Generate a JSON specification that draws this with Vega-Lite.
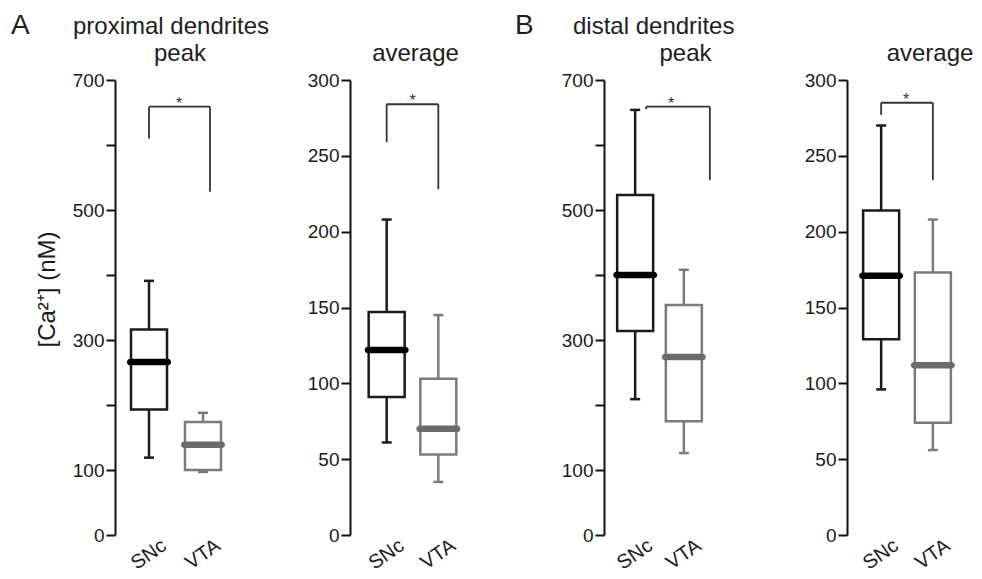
{
  "$schema": "https://vega.github.io/schema/vega-lite/v6.json",
  "background": "white",
  "padding": {"left": 11, "top": 12, "right": 5, "bottom": 5},
  "config": {
    "font": "Liberation Sans",
    "view": {"stroke": null},
    "title": {"font": "Liberation Sans", "fontWeight": "normal", "fontSize": 24, "color": "#1e1e1e", "baseline": "alphabetic"},
    "axis": {"domainColor": "#111111", "domainWidth": 2, "tickColor": "#111111", "tickWidth": 2, "tickSize": 9, "labelFont": "Liberation Sans", "labelFontSize": 19, "labelColor": "#1a1a1a", "grid": false, "titleFont": "Liberation Sans", "titleFontWeight": "normal"},
    "axisY": {"labelPadding": 2},
    "axisX": {"domain": false, "ticks": false, "labelAngle": -35, "labelFontSize": 20, "labelPadding": 0, "labelOffset": 9},
    "tick": {"opacity": 1}
  },
  "datasets": {
    "boxes": [
      {"panel": "A_peak", "group": "SNc", "lower": 119, "q1": 193, "median": 266, "q3": 316, "upper": 391},
      {"panel": "A_peak", "group": "VTA", "lower": 97, "q1": 100, "median": 139, "q3": 174, "upper": 188},
      {"panel": "A_avg", "group": "SNc", "lower": 61, "q1": 91, "median": 122, "q3": 147, "upper": 208},
      {"panel": "A_avg", "group": "VTA", "lower": 35, "q1": 53, "median": 70, "q3": 103, "upper": 145},
      {"panel": "B_peak", "group": "SNc", "lower": 209, "q1": 314, "median": 400, "q3": 523, "upper": 654},
      {"panel": "B_peak", "group": "VTA", "lower": 126, "q1": 175, "median": 274, "q3": 354, "upper": 408},
      {"panel": "B_avg", "group": "SNc", "lower": 96, "q1": 129, "median": 171, "q3": 214, "upper": 270},
      {"panel": "B_avg", "group": "VTA", "lower": 56, "q1": 74, "median": 112, "q3": 173, "upper": 208}
    ],
    "brackets": [
      {"panel": "A_peak", "left": "SNc", "right": "VTA", "top": 659, "leftEnd": 610, "rightEnd": 528, "mark": "*"},
      {"panel": "A_avg", "left": "SNc", "right": "VTA", "top": 284, "leftEnd": 259, "rightEnd": 228, "mark": "*"},
      {"panel": "B_peak", "left": "SNc", "right": "VTA", "top": 659, "leftEnd": 655, "rightEnd": 546, "mark": "*"},
      {"panel": "B_avg", "left": "SNc", "right": "VTA", "top": 285, "leftEnd": 277, "rightEnd": 234, "mark": "*"}
    ]
  },
  "bounds": "flush",
  "spacing": 489,
  "hconcat": [
    {
      "title": {"text": "A", "fontSize": 28, "anchor": "start", "frame": "group", "dx": -104, "dy": 25, "offset": 0},
      "bounds": "flush",
      "hconcat": [
        {
          "title": {"text": "proximal dendrites", "anchor": "start", "frame": "group", "dx": -42, "offset": 3},
          "bounds": "flush",
          "spacing": 113,
          "hconcat": [
            {
              "width": 122, "height": 455,
              "title": {"text": "peak", "anchor": "middle", "frame": "group", "offset": 5, "dx": 4},
              "layer": [
                {
                  "data": {"name": "boxes"},
                  "transform": [{"filter": "datum.panel == 'A_peak'"}],
                  "layer": [
                    {"mark": {"type": "rule", "strokeWidth": 2.5},
                     "encoding": {
                       "x": {"field": "group", "type": "nominal", "title": null, "scale": {"type": "point", "domain": ["SNc", "VTA"], "padding": 0.63}},
                       "y": {"field": "lower", "type": "quantitative", "title": "[Ca²⁺] (nM)", "scale": {"domain": [0, 700], "nice": false}, "axis": {"titleFontSize": 24, "titleColor": "#1a1a1a", "titleX": -68, "titleY": 209, "titleBaseline": "middle", "titleAlign": "center", "values": [0, 100, 200, 300, 400, 500, 600, 700], "labelExpr": "datum.value == 0 || datum.value % 200 == 100 ? datum.label : ''"}},
                       "y2": {"field": "upper"},
                       "color": {"condition": {"test": "datum.group == 'SNc'", "value": "#1a1a1a"}, "value": "#7b7b7b"}
                     }},
                    {"mark": {"type": "bar", "size": 36, "fill": "white", "strokeWidth": 2.5},
                     "encoding": {
                       "x": {"field": "group", "type": "nominal", "title": null},
                       "y": {"field": "q1", "type": "quantitative", "title": "[Ca²⁺] (nM)"},
                       "y2": {"field": "q3"},
                       "stroke": {"condition": {"test": "datum.group == 'SNc'", "value": "#1a1a1a"}, "value": "#7b7b7b"}
                     }},
                    {"mark": {"type": "tick", "size": 10, "thickness": 2.5},
                     "encoding": {
                       "x": {"field": "group", "type": "nominal", "title": null},
                       "y": {"field": "lower", "type": "quantitative", "title": "[Ca²⁺] (nM)"},
                       "color": {"condition": {"test": "datum.group == 'SNc'", "value": "#1a1a1a"}, "value": "#7b7b7b"}
                     }},
                    {"mark": {"type": "tick", "size": 10, "thickness": 2.5},
                     "encoding": {
                       "x": {"field": "group", "type": "nominal", "title": null},
                       "y": {"field": "upper", "type": "quantitative", "title": "[Ca²⁺] (nM)"},
                       "color": {"condition": {"test": "datum.group == 'SNc'", "value": "#1a1a1a"}, "value": "#7b7b7b"}
                     }},
                    {"mark": {"type": "tick", "size": 44, "thickness": 6.5, "cornerRadius": 3.2},
                     "encoding": {
                       "x": {"field": "group", "type": "nominal", "title": null},
                       "y": {"field": "median", "type": "quantitative", "title": "[Ca²⁺] (nM)"},
                       "color": {"condition": {"test": "datum.group == 'SNc'", "value": "#000000"}, "value": "#6b6b6b"}
                     }}
                  ]
                },
                {
                  "data": {"name": "brackets"},
                  "transform": [{"filter": "datum.panel == 'A_peak'"}],
                  "layer": [
                    {"mark": {"type": "rule", "strokeWidth": 1.8, "color": "#333333", "x2Offset": 7},
                     "encoding": {"x": {"field": "left", "type": "nominal", "title": null}, "x2": {"field": "right"}, "y": {"field": "top", "type": "quantitative", "title": "[Ca²⁺] (nM)"}}},
                    {"mark": {"type": "rule", "strokeWidth": 1.8, "color": "#333333"},
                     "encoding": {"x": {"field": "left", "type": "nominal", "title": null}, "y": {"field": "leftEnd", "type": "quantitative", "title": "[Ca²⁺] (nM)"}, "y2": {"field": "top"}}},
                    {"mark": {"type": "rule", "strokeWidth": 1.8, "color": "#333333", "xOffset": 7},
                     "encoding": {"x": {"field": "right", "type": "nominal", "title": null}, "y": {"field": "rightEnd", "type": "quantitative", "title": "[Ca²⁺] (nM)"}, "y2": {"field": "top"}}},
                    {"mark": {"type": "text", "fontSize": 16, "color": "#333333", "xOffset": 30, "dy": 2, "baseline": "alphabetic"},
                     "encoding": {"x": {"field": "left", "type": "nominal", "title": null}, "y": {"field": "top", "type": "quantitative", "title": "[Ca²⁺] (nM)"}, "text": {"field": "mark"}}}
                  ]
                }
              ]
            },
            {
              "width": 125, "height": 455,
              "title": {"text": "average", "anchor": "middle", "frame": "group", "offset": 5, "dx": 3},
              "layer": [
                {
                  "data": {"name": "boxes"},
                  "transform": [{"filter": "datum.panel == 'A_avg'"}],
                  "layer": [
                    {"mark": {"type": "rule", "strokeWidth": 2.5},
                     "encoding": {
                       "x": {"field": "group", "type": "nominal", "title": null, "scale": {"type": "point", "domain": ["SNc", "VTA"], "padding": 0.71}},
                       "y": {"field": "lower", "type": "quantitative", "title": null, "scale": {"domain": [0, 300], "nice": false}, "axis": {"values": [0, 25, 50, 75, 100, 125, 150, 175, 200, 225, 250, 275, 300], "labelExpr": "datum.value % 50 == 0 ? datum.label : ''"}},
                       "y2": {"field": "upper"},
                       "color": {"condition": {"test": "datum.group == 'SNc'", "value": "#1a1a1a"}, "value": "#7b7b7b"}
                     }},
                    {"mark": {"type": "bar", "size": 36, "fill": "white", "strokeWidth": 2.5},
                     "encoding": {
                       "x": {"field": "group", "type": "nominal", "title": null},
                       "y": {"field": "q1", "type": "quantitative", "title": null},
                       "y2": {"field": "q3"},
                       "stroke": {"condition": {"test": "datum.group == 'SNc'", "value": "#1a1a1a"}, "value": "#7b7b7b"}
                     }},
                    {"mark": {"type": "tick", "size": 10, "thickness": 2.5},
                     "encoding": {
                       "x": {"field": "group", "type": "nominal", "title": null},
                       "y": {"field": "lower", "type": "quantitative", "title": null},
                       "color": {"condition": {"test": "datum.group == 'SNc'", "value": "#1a1a1a"}, "value": "#7b7b7b"}
                     }},
                    {"mark": {"type": "tick", "size": 10, "thickness": 2.5},
                     "encoding": {
                       "x": {"field": "group", "type": "nominal", "title": null},
                       "y": {"field": "upper", "type": "quantitative", "title": null},
                       "color": {"condition": {"test": "datum.group == 'SNc'", "value": "#1a1a1a"}, "value": "#7b7b7b"}
                     }},
                    {"mark": {"type": "tick", "size": 44, "thickness": 6.5, "cornerRadius": 3.2},
                     "encoding": {
                       "x": {"field": "group", "type": "nominal", "title": null},
                       "y": {"field": "median", "type": "quantitative", "title": null},
                       "color": {"condition": {"test": "datum.group == 'SNc'", "value": "#000000"}, "value": "#6b6b6b"}
                     }}
                  ]
                },
                {
                  "data": {"name": "brackets"},
                  "transform": [{"filter": "datum.panel == 'A_avg'"}],
                  "layer": [
                    {"mark": {"type": "rule", "strokeWidth": 1.8, "color": "#333333"},
                     "encoding": {"x": {"field": "left", "type": "nominal", "title": null}, "x2": {"field": "right"}, "y": {"field": "top", "type": "quantitative", "title": null}}},
                    {"mark": {"type": "rule", "strokeWidth": 1.8, "color": "#333333"},
                     "encoding": {"x": {"field": "left", "type": "nominal", "title": null}, "y": {"field": "leftEnd", "type": "quantitative", "title": null}, "y2": {"field": "top"}}},
                    {"mark": {"type": "rule", "strokeWidth": 1.8, "color": "#333333"},
                     "encoding": {"x": {"field": "right", "type": "nominal", "title": null}, "y": {"field": "rightEnd", "type": "quantitative", "title": null}, "y2": {"field": "top"}}},
                    {"mark": {"type": "text", "fontSize": 16, "color": "#333333", "xOffset": 26, "dy": 2, "baseline": "alphabetic"},
                     "encoding": {"x": {"field": "left", "type": "nominal", "title": null}, "y": {"field": "top", "type": "quantitative", "title": null}, "text": {"field": "mark"}}}
                  ]
                }
              ]
            }
          ]
        }
      ]
    },
    {
      "title": {"text": "B", "fontSize": 28, "anchor": "start", "frame": "group", "dx": -89, "dy": 25, "offset": 0},
      "bounds": "flush",
      "hconcat": [
        {
          "title": {"text": "distal dendrites", "anchor": "start", "frame": "group", "dx": -31, "offset": 3},
          "bounds": "flush",
          "spacing": 132,
          "hconcat": [
            {
              "width": 111, "height": 455,
              "title": {"text": "peak", "anchor": "middle", "frame": "group", "offset": 5, "dx": 26},
              "layer": [
                {
                  "data": {"name": "boxes"},
                  "transform": [{"filter": "datum.panel == 'B_peak'"}],
                  "layer": [
                    {"mark": {"type": "rule", "strokeWidth": 2.5},
                     "encoding": {
                       "x": {"field": "group", "type": "nominal", "title": null, "scale": {"type": "point", "domain": ["SNc", "VTA"], "padding": 0.64}},
                       "y": {"field": "lower", "type": "quantitative", "title": null, "scale": {"domain": [0, 700], "nice": false}, "axis": {"values": [0, 100, 200, 300, 400, 500, 600, 700], "labelExpr": "datum.value == 0 || datum.value % 200 == 100 ? datum.label : ''"}},
                       "y2": {"field": "upper"},
                       "color": {"condition": {"test": "datum.group == 'SNc'", "value": "#1a1a1a"}, "value": "#7b7b7b"}
                     }},
                    {"mark": {"type": "bar", "size": 36, "fill": "white", "strokeWidth": 2.5},
                     "encoding": {
                       "x": {"field": "group", "type": "nominal", "title": null},
                       "y": {"field": "q1", "type": "quantitative", "title": null},
                       "y2": {"field": "q3"},
                       "stroke": {"condition": {"test": "datum.group == 'SNc'", "value": "#1a1a1a"}, "value": "#7b7b7b"}
                     }},
                    {"mark": {"type": "tick", "size": 10, "thickness": 2.5},
                     "encoding": {
                       "x": {"field": "group", "type": "nominal", "title": null},
                       "y": {"field": "lower", "type": "quantitative", "title": null},
                       "color": {"condition": {"test": "datum.group == 'SNc'", "value": "#1a1a1a"}, "value": "#7b7b7b"}
                     }},
                    {"mark": {"type": "tick", "size": 10, "thickness": 2.5},
                     "encoding": {
                       "x": {"field": "group", "type": "nominal", "title": null},
                       "y": {"field": "upper", "type": "quantitative", "title": null},
                       "color": {"condition": {"test": "datum.group == 'SNc'", "value": "#1a1a1a"}, "value": "#7b7b7b"}
                     }},
                    {"mark": {"type": "tick", "size": 44, "thickness": 6.5, "cornerRadius": 3.2},
                     "encoding": {
                       "x": {"field": "group", "type": "nominal", "title": null},
                       "y": {"field": "median", "type": "quantitative", "title": null},
                       "color": {"condition": {"test": "datum.group == 'SNc'", "value": "#000000"}, "value": "#6b6b6b"}
                     }}
                  ]
                },
                {
                  "data": {"name": "brackets"},
                  "transform": [{"filter": "datum.panel == 'B_peak'"}],
                  "layer": [
                    {"mark": {"type": "rule", "strokeWidth": 1.8, "color": "#333333", "xOffset": 11, "x2Offset": 26},
                     "encoding": {"x": {"field": "left", "type": "nominal", "title": null}, "x2": {"field": "right"}, "y": {"field": "top", "type": "quantitative", "title": null}}},
                    {"mark": {"type": "rule", "strokeWidth": 1.8, "color": "#333333", "xOffset": 11},
                     "encoding": {"x": {"field": "left", "type": "nominal", "title": null}, "y": {"field": "leftEnd", "type": "quantitative", "title": null}, "y2": {"field": "top"}}},
                    {"mark": {"type": "rule", "strokeWidth": 1.8, "color": "#333333", "xOffset": 26},
                     "encoding": {"x": {"field": "right", "type": "nominal", "title": null}, "y": {"field": "rightEnd", "type": "quantitative", "title": null}, "y2": {"field": "top"}}},
                    {"mark": {"type": "text", "fontSize": 16, "color": "#333333", "xOffset": 36, "dy": 2, "baseline": "alphabetic"},
                     "encoding": {"x": {"field": "left", "type": "nominal", "title": null}, "y": {"field": "top", "type": "quantitative", "title": null}, "text": {"field": "mark"}}}
                  ]
                }
              ]
            },
            {
              "width": 120, "height": 455,
              "title": {"text": "average", "anchor": "middle", "frame": "group", "offset": 5, "dx": 23},
              "layer": [
                {
                  "data": {"name": "boxes"},
                  "transform": [{"filter": "datum.panel == 'B_avg'"}],
                  "layer": [
                    {"mark": {"type": "rule", "strokeWidth": 2.5},
                     "encoding": {
                       "x": {"field": "group", "type": "nominal", "title": null, "scale": {"type": "point", "domain": ["SNc", "VTA"], "padding": 0.66}},
                       "y": {"field": "lower", "type": "quantitative", "title": null, "scale": {"domain": [0, 300], "nice": false}, "axis": {"values": [0, 25, 50, 75, 100, 125, 150, 175, 200, 225, 250, 275, 300], "labelExpr": "datum.value % 50 == 0 ? datum.label : ''"}},
                       "y2": {"field": "upper"},
                       "color": {"condition": {"test": "datum.group == 'SNc'", "value": "#1a1a1a"}, "value": "#7b7b7b"}
                     }},
                    {"mark": {"type": "bar", "size": 36, "fill": "white", "strokeWidth": 2.5},
                     "encoding": {
                       "x": {"field": "group", "type": "nominal", "title": null},
                       "y": {"field": "q1", "type": "quantitative", "title": null},
                       "y2": {"field": "q3"},
                       "stroke": {"condition": {"test": "datum.group == 'SNc'", "value": "#1a1a1a"}, "value": "#7b7b7b"}
                     }},
                    {"mark": {"type": "tick", "size": 10, "thickness": 2.5},
                     "encoding": {
                       "x": {"field": "group", "type": "nominal", "title": null},
                       "y": {"field": "lower", "type": "quantitative", "title": null},
                       "color": {"condition": {"test": "datum.group == 'SNc'", "value": "#1a1a1a"}, "value": "#7b7b7b"}
                     }},
                    {"mark": {"type": "tick", "size": 10, "thickness": 2.5},
                     "encoding": {
                       "x": {"field": "group", "type": "nominal", "title": null},
                       "y": {"field": "upper", "type": "quantitative", "title": null},
                       "color": {"condition": {"test": "datum.group == 'SNc'", "value": "#1a1a1a"}, "value": "#7b7b7b"}
                     }},
                    {"mark": {"type": "tick", "size": 44, "thickness": 6.5, "cornerRadius": 3.2},
                     "encoding": {
                       "x": {"field": "group", "type": "nominal", "title": null},
                       "y": {"field": "median", "type": "quantitative", "title": null},
                       "color": {"condition": {"test": "datum.group == 'SNc'", "value": "#000000"}, "value": "#6b6b6b"}
                     }}
                  ]
                },
                {
                  "data": {"name": "brackets"},
                  "transform": [{"filter": "datum.panel == 'B_avg'"}],
                  "layer": [
                    {"mark": {"type": "rule", "strokeWidth": 1.8, "color": "#333333"},
                     "encoding": {"x": {"field": "left", "type": "nominal", "title": null}, "x2": {"field": "right"}, "y": {"field": "top", "type": "quantitative", "title": null}}},
                    {"mark": {"type": "rule", "strokeWidth": 1.8, "color": "#333333"},
                     "encoding": {"x": {"field": "left", "type": "nominal", "title": null}, "y": {"field": "leftEnd", "type": "quantitative", "title": null}, "y2": {"field": "top"}}},
                    {"mark": {"type": "rule", "strokeWidth": 1.8, "color": "#333333"},
                     "encoding": {"x": {"field": "right", "type": "nominal", "title": null}, "y": {"field": "rightEnd", "type": "quantitative", "title": null}, "y2": {"field": "top"}}},
                    {"mark": {"type": "text", "fontSize": 16, "color": "#333333", "xOffset": 25, "dy": 2, "baseline": "alphabetic"},
                     "encoding": {"x": {"field": "left", "type": "nominal", "title": null}, "y": {"field": "top", "type": "quantitative", "title": null}, "text": {"field": "mark"}}}
                  ]
                }
              ]
            }
          ]
        }
      ]
    }
  ]
}
